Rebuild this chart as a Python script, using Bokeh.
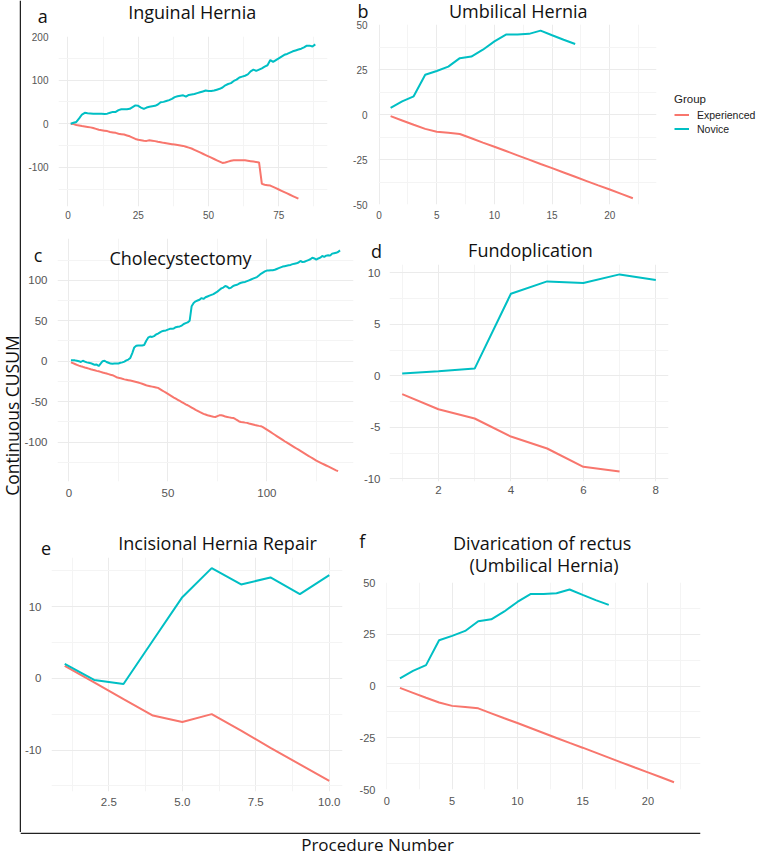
import math
from bokeh.plotting import figure
from bokeh.layouts import row, column
from bokeh.models import Range1d, FixedTicker, Label, Span, Legend, LegendItem, GridBox
from bokeh.embed import file_html
from bokeh.resources import INLINE

EXP_COLOR = "#F8766D"
NOV_COLOR = "#00BFC4"
TITLE_FONT = "Open Sans"
TICK_FONT = "Liberation Sans"
TICK_COLOR = "#555555"
TEXT_COLOR = "#111111"
PAGE_W, PAGE_H = 762, 856

# ---------------- data ----------------
# a: Inguinal Hernia
nov_a = [0, 2, 4, 12, 21, 25, 24, 23.5, 23, 22.5,
         22.5, 22.5, 22, 23, 25, 27, 27, 31, 33, 33,
         33, 34, 38, 42, 41, 37, 34, 37, 39, 40,
         41, 44, 49, 50, 52, 54, 57, 61, 63, 64,
         65, 62, 66, 67, 68, 70, 72, 74, 76, 75,
         75, 76, 78, 80, 83, 88, 91, 93, 98, 101,
         106, 108, 110, 113, 120, 124, 121, 124, 127, 131,
         134, 146, 142, 146, 150, 154, 158, 160, 163, 166,
         168, 170, 172, 175, 179, 179, 177, 182]
exp_a = [0, -1, -3, -4, -5.5, -6.5, -7.5, -8.5, -10, -12,
         -14, -15, -16, -17, -19, -20, -21, -23, -24, -25,
         -27, -29, -32, -35, -37, -38, -39, -39.5, -38, -39,
         -40, -41.5, -42.5, -44, -45, -46, -47, -48, -49, -50,
         -51, -53, -55, -57, -60, -63, -66, -69, -72, -75,
         -78, -81, -84, -87, -90, -89, -87, -85, -84, -84,
         -84, -84, -84, -85, -86, -87, -88, -89, -138, -140,
         -141, -142, -145, -148, -151, -154, -157, -160, -163, -166,
         -169, -172]

# b: Umbilical Hernia
nov_b = [3.7, 7.3, 10.1, 22.1, 24.2, 26.6, 31.3, 32.2, 36.0, 40.6,
         44.4, 44.4, 44.8, 46.6, 44.0, 41.5, 39.2]
exp_b = [-0.9, -3.3, -5.7, -8.0, -9.6, -10.2, -10.8, -13.2, -15.6, -17.9,
         -20.3, -22.7, -25.1, -27.5, -29.8, -32.2, -34.6, -37.0, -39.4, -41.7,
         -44.1, -46.5]

# c: Cholecystectomy
nov_c = [1, 1, 1, 0.5, 0, -1, 0.5, -0.5, -1.5, -2,
         -2.5, -3.5, -4.5, -4, -6, -3, 0, 0.5, -1, -2,
         -3, -3.3, -3, -3, -2.8, -2, -1.5, -0.5, 1, 2,
         4, 10, 17, 19, 19.5, 19.5, 19.5, 20, 25, 29,
         30.5, 30, 31, 33, 34, 35.5, 37, 37.5, 38, 39,
         40, 40, 40.5, 42, 42.5, 43, 44, 46, 47, 48,
         50, 68, 72, 74, 75, 76, 78, 77, 79, 80,
         81, 82, 83, 84.5, 86, 88, 90, 91, 93, 92,
         90, 91, 93, 94, 94.5, 96, 97, 97.5, 98, 99,
         100, 101, 102, 103, 104, 106, 108, 109.5, 111, 112,
         112, 112.5, 112.5, 113, 114, 115, 116, 117, 117.5, 118,
         118.5, 119, 120, 120.5, 121, 122, 124, 122.5, 123, 124,
         125, 126, 128, 127, 125.5, 127, 128, 130, 129, 130.5,
         131, 130.5, 133, 133.5, 134, 135, 137]
exp_c = [-1.5, -2.5, -3.5, -4.5, -5.5, -6.3, -7, -7.8, -8.5, -9.2,
         -10, -10.7, -11.3, -12, -12.5, -13.2, -14, -14.7, -15.3, -16,
         -16.7, -17.3, -18.5, -19.8, -20.5, -21, -21.8, -22.5, -23, -23.5,
         -24, -24.6, -25.2, -25.8, -26.4, -27.2, -28, -28.8, -29.7, -30.5,
         -31, -31.5, -32, -32.5, -33, -34.5, -36, -37.5, -39, -40.5,
         -42, -43.5, -45, -46.4, -47.8, -49.2, -50.6, -52, -53.3, -54.5,
         -56, -57.4, -58.8, -60.2, -61.5, -62.8, -64, -65.2, -66, -66.8,
         -67.5, -68.2, -68.8, -69, -68, -67, -66.8, -67.5, -68.5, -69,
         -69.5, -70, -70.2, -71.5, -73, -74.5, -75.2, -75.6, -76, -76.3,
         -77, -77.6, -78.3, -79, -79.5, -80, -80.4, -81.5, -83, -84.6,
         -86.2, -87.8, -89.4, -91, -92.6, -94.2, -95.8, -97.4, -99, -100.5,
         -102, -103.5, -105, -106.5, -108, -109.5, -111, -112.5, -114, -115.5,
         -117, -118.5, -120, -121.5, -123, -124.2, -125.4, -126.6, -127.8, -129,
         -130.2, -131.4, -132.6, -133.8, -135, -136]

# d: Fundoplication
nov_d = [0.23, 0.45, 0.70, 7.96, 9.16, 9.0, 9.84, 9.29]
exp_d = [-1.78, -3.24, -4.14, -5.89, -7.05, -8.83, -9.29]

# e: Incisional Hernia Repair
nov_e = [2.0, -0.23, -0.8, 5.26, 11.3, 15.35, 13.07, 14.05, 11.72, 14.37]
exp_e = [1.72, -0.56, -2.9, -5.2, -6.1, -5.0, -7.3, -9.7, -12.0, -14.3]

# f: Divarication of rectus (Umbilical Hernia)
nov_f = [3.7, 7.3, 10.1, 22.1, 24.2, 26.6, 31.3, 32.2, 36.0, 40.6,
         44.4, 44.4, 44.8, 46.6, 44.0, 41.5, 39.2]
exp_f = [-0.9, -3.3, -5.7, -8.0, -9.6, -10.2, -10.8, -13.2, -15.6, -17.9,
         -20.3, -22.7, -25.1, -27.5, -29.8, -32.2, -34.6, -37.0, -39.4, -41.7,
         -44.1, -46.5]

# ticks
a_xt, a_xl, a_xm = [0, 25, 50, 75], ["0", "25", "50", "75"], [12.5, 37.5, 62.5, 87.5]
a_yt, a_yl, a_ym = [-100, 0, 100, 200], ["-100", "0", "100", "200"], [-150, -50, 50, 150]
b_xt, b_xl, b_xm = [0, 5, 10, 15, 20], ["0", "5", "10", "15", "20"], [2.5, 7.5, 12.5, 17.5, 22.5]
b_yt, b_yl, b_ym = [-50, -25, 0, 25, 50], ["-50", "-25", "0", "25", "50"], [-37.5, -12.5, 12.5, 37.5]
c_xt, c_xl, c_xm = [0, 50, 100], ["0", "50", "100"], [25, 75, 125]
c_yt, c_yl, c_ym = [-100, -50, 0, 50, 100], ["-100", "-50", "0", "50", "100"], [-125, -75, -25, 25, 75, 125]
d_xt, d_xl, d_xm = [2, 4, 6, 8], ["2", "4", "6", "8"], [1, 3, 5, 7]
d_yt, d_yl, d_ym = [-10, -5, 0, 5, 10], ["-10", "-5", "0", "5", "10"], [-7.5, -2.5, 2.5, 7.5]
e_xt, e_xl, e_xm = [2.5, 5, 7.5, 10], ["2.5", "5.0", "7.5", "10.0"], [1.25, 3.75, 6.25, 8.75]
e_yt, e_yl, e_ym = [-10, 0, 10], ["-10", "0", "10"], [-15, -5, 5, 15]

# texts
panel_titles = ["Inguinal Hernia", "Umbilical Hernia", "Cholecystectomy", "Fundoplication",
                "Incisional Hernia Repair", "Divarication of rectus", "(Umbilical Hernia)"]
panel_letters = ["a", "b", "c", "d", "e", "f"]
y_title = "Continuous CUSUM"
x_title = "Procedure Number"
legend_title = "Group"
group_names = ["Experienced", "Novice"]


def bare_fig(**kw):
    p = figure(title=None, output_backend="svg", toolbar_location=None, frame_align=False, **kw)
    p.outline_line_color = None
    return p


def panel(w, h, mb, xr, yr, xt, xl, xm, yt, yl, ym, fs, xs, ys):
    p = bare_fig(width=w, height=h, x_range=Range1d(*xr), y_range=Range1d(*yr),
                 min_border_left=mb[0], min_border_right=mb[1],
                 min_border_top=mb[2], min_border_bottom=mb[3],
                 background_fill_color="white", border_fill_color="white")
    xtk = FixedTicker(ticks=xt, minor_ticks=xm)
    ytk = FixedTicker(ticks=yt, minor_ticks=ym)
    p.xaxis.ticker = xtk
    p.yaxis.ticker = ytk
    p.xgrid.ticker = xtk
    p.ygrid.ticker = ytk
    p.xaxis.major_label_overrides = {t: l for t, l in zip(xt, xl)}
    p.yaxis.major_label_overrides = {t: l for t, l in zip(yt, yl)}
    for ax in (p.xaxis, p.yaxis):
        ax.axis_line_color = None
        ax.major_tick_line_color = None
        ax.minor_tick_line_color = None
        ax.major_tick_out = 0
        ax.major_tick_in = 0
        ax.major_label_text_font = TICK_FONT
        ax.major_label_text_font_size = fs
        ax.major_label_text_color = TICK_COLOR
    p.xaxis.major_label_standoff = xs
    p.yaxis.major_label_standoff = ys
    for g in (p.xgrid, p.ygrid):
        g.grid_line_color = "#EBEBEB"
        g.grid_line_width = 1
        g.minor_grid_line_color = "#F4F4F4"
        g.minor_grid_line_width = 1
    return p


def lines(p, exp, nov):
    r1 = p.line(list(range(1, len(exp) + 1)), exp, line_color=EXP_COLOR, line_width=2)
    r2 = p.line(list(range(1, len(nov) + 1)), nov, line_color=NOV_COLOR, line_width=2)
    return r1, r2


# a
pa = panel(324, 232, (37, 18, 36, 26), (-3.35, 92.35), (-190, 200),
           a_xt, a_xl, a_xm, a_yt, a_yl, a_ym, "10px", 0, 6)
lines(pa, exp_a, nov_a)

# b
pb = panel(417, 232, (33, 106, 24, 28), (-0.05, 24.05), (-50, 50),
           b_xt, b_xl, b_xm, b_yt, b_yl, b_ym, "10px", 2, 7)
lines(pb, exp_b, nov_b)

# c
pc = panel(339, 288, (34, 7, 6, 39), (-5.8, 143.8), (-148.8, 151.7),
           c_xt, c_xl, c_xm, c_yt, c_yl, c_ym, "11.5px", 3, 6)
lines(pc, exp_c, nov_c)

# d
pd_ = panel(402, 288, (27, 94, 32, 39), (0.65, 8.35), (-10.25, 10.8),
            d_xt, d_xl, d_xm, d_yt, d_yl, d_ym, "11.5px", 0, 5)
lines(pd_, exp_d, nov_d)

# e
pe = panel(334, 312, (30, 13, 37, 41), (0.55, 10.45), (-15.78, 16.83),
           e_xt, e_xl, e_xm, e_yt, e_yl, e_ym, "11.5px", 2, 6)
lines(pe, exp_e, nov_e)

# f
pf = panel(407, 312, (31, 62, 62, 43), (-0.03, 24.03), (-50, 50),
           b_xt, b_xl, b_xm, b_yt, b_yl, b_ym, "11px", 3, 7)
lines(pf, exp_f, nov_f)

# left strip with border line
ls = bare_fig(width=21, height=832, x_range=Range1d(0, 21), y_range=Range1d(0, 832),
              min_border=0, x_axis_type=None, y_axis_type=None,
              background_fill_color="white", border_fill_color="white")
ls.add_layout(Span(location=20, dimension="height", line_color="#222222", line_width=1.5))

# bottom strip with border line
bs = bare_fig(width=762, height=24, x_range=Range1d(0, 680), y_range=Range1d(0, 24),
              min_border_left=20, min_border_right=62, min_border_top=0, min_border_bottom=0,
              x_axis_type=None, y_axis_type=None,
              background_fill_color="white", border_fill_color="white")
bs.add_layout(Span(location=23.3, dimension="width", line_color="#222222", line_width=1.5))

grid = column(row(pa, pb), row(pc, pd_), row(pe, pf))
base = column(row(ls, grid), bs)

# transparent overlay carrying all titles / labels / legend (page coordinates, y from bottom)
ov = bare_fig(width=PAGE_W, height=PAGE_H, x_range=Range1d(0, PAGE_W), y_range=Range1d(0, PAGE_H),
              min_border=0, x_axis_type=None, y_axis_type=None,
              background_fill_color=None, border_fill_color=None)


def txt(x, y_from_top, s, size="18px", angle=0.0):
    ov.add_layout(Label(x=x, y=PAGE_H - y_from_top, x_units="screen", y_units="screen", text=s,
                        angle=angle, text_font=TITLE_FONT, text_font_size=size,
                        text_color=TEXT_COLOR, text_align="center",
                        text_baseline="middle"))


# (x centre, vertical centre from page top)
title_pos = [(191.7, 11), (517.8, 10.5), (180, 257), (530, 249.5),
             (217, 542), (541.7, 542), (543.5, 564.3)]
letter_pos = [(42.2, 15), (362.5, 10), (37.5, 254.5), (376, 250), (45.5, 548), (361.7, 540)]
for s, (x, y) in zip(panel_titles, title_pos):
    txt(x, y, s)
for s, (x, y) in zip(panel_letters, letter_pos):
    txt(x, y, s)
txt(11, 415, y_title, size="17.5px", angle=math.pi / 2)
txt(377, 844, x_title, size="17px")

# legend keys (styled like the panels' lines; no visible data of their own)
k_exp = ov.line(x=[float("nan")], y=[float("nan")], line_color=EXP_COLOR, line_width=2)
k_nov = ov.line(x=[float("nan")], y=[float("nan")], line_color=NOV_COLOR, line_width=2)
legend = Legend(items=[LegendItem(label=group_names[0], renderers=[k_exp]),
                       LegendItem(label=group_names[1], renderers=[k_nov])],
                title=legend_title, location=(674, PAGE_H - 135))
legend.title_text_font = TICK_FONT
legend.title_text_font_size = "11.5px"
legend.title_text_font_style = "normal"
legend.title_text_color = "#222222"
legend.title_standoff = 3
legend.label_text_font = TICK_FONT
legend.label_text_font_size = "10.5px"
legend.label_text_color = "#222222"
legend.glyph_width = 15
legend.glyph_height = 13
legend.label_height = 13
legend.label_standoff = 8
legend.spacing = 1
legend.padding = 0
legend.margin = 0
legend.border_line_color = None
legend.background_fill_alpha = 0
ov.add_layout(legend)

page = GridBox(children=[(base, 0, 0), (ov, 0, 0)])

open("out.html", "w").write(file_html(page, INLINE))
